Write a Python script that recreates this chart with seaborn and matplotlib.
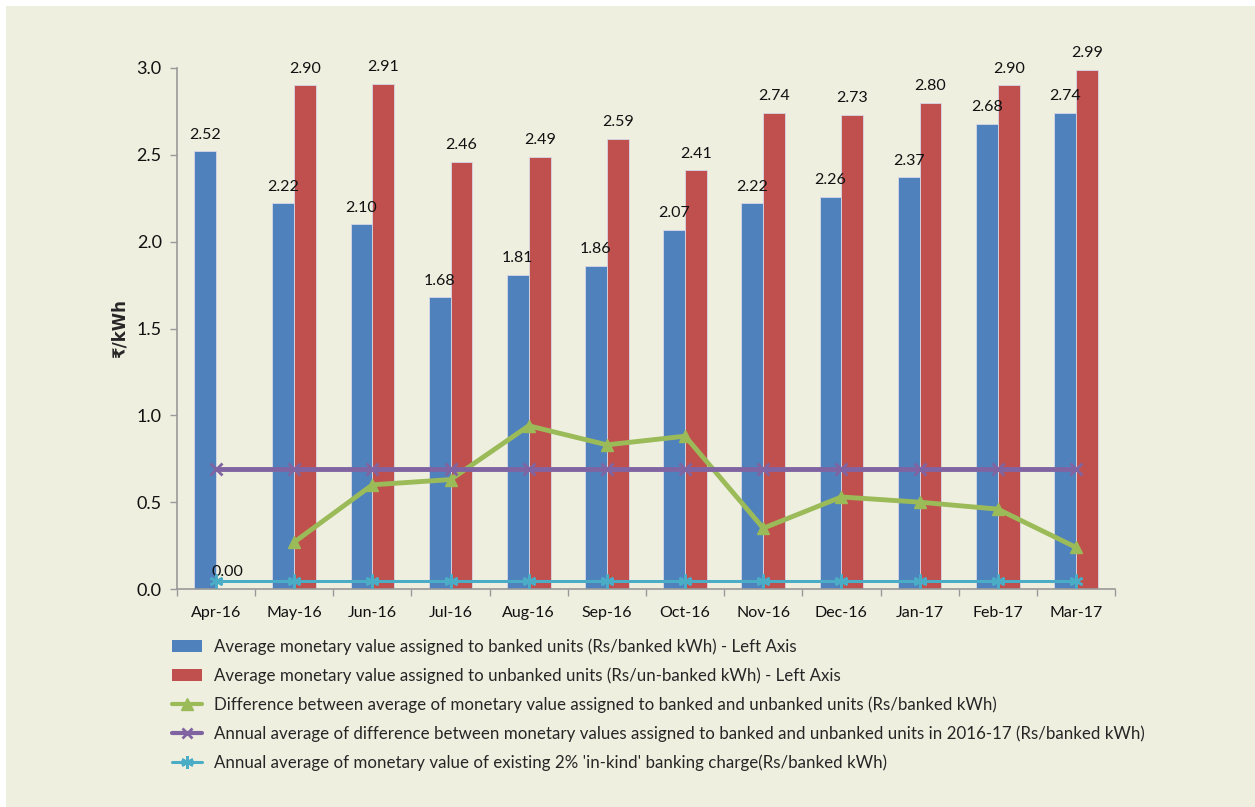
import numpy as np
import pandas as pd
import matplotlib
matplotlib.use("Agg")
import matplotlib.pyplot as plt
from matplotlib.patches import Rectangle
from matplotlib.lines import Line2D
from matplotlib.patches import Patch
import seaborn as sns

# ---- data ----
months = ["Apr-16", "May-16", "Jun-16", "Jul-16", "Aug-16", "Sep-16",
          "Oct-16", "Nov-16", "Dec-16", "Jan-17", "Feb-17", "Mar-17"]
banked = [2.52, 2.22, 2.10, 1.68, 1.81, 1.86, 2.07, 2.22, 2.26, 2.37, 2.68, 2.74]
unbanked = [0.00, 2.90, 2.91, 2.46, 2.49, 2.59, 2.41, 2.74, 2.73, 2.80, 2.90, 2.99]
difference = [np.nan, 0.27, 0.60, 0.63, 0.94, 0.83, 0.88, 0.35, 0.53, 0.50, 0.46, 0.24]
annual_avg_diff = [0.69] * 12
banking_charge = [0.045] * 12

series_names = [
    "Average monetary value assigned to banked units (Rs/banked kWh) - Left Axis",
    "Average monetary value assigned to unbanked units (Rs/un-banked kWh) - Left Axis",
    "Difference between average of monetary value assigned to banked and unbanked units (Rs/banked kWh)",
    "Annual average of difference between monetary values assigned to banked and unbanked units in 2016-17 (Rs/banked kWh)",
    "Annual average of monetary value of existing 2% 'in-kind' banking charge(Rs/banked kWh)",
]

BLUE = "#4F81BD"
RED = "#C0504D"
GREEN = "#9BBB59"
PURPLE = "#8064A2"
CYAN = "#4BACC6"
BG = "#EFEFE0"

sns.set_theme(style="white")
plt.rcParams["font.family"] = ["Lato", "DejaVu Sans"]

fig = plt.figure(figsize=(12.55, 8.07), dpi=100, facecolor="white")
fig.patches.append(Rectangle((6 / 1255, 0), 1 - 6 / 1255, 1 - 6 / 807,
                             transform=fig.transFigure, facecolor=BG,
                             edgecolor="none", zorder=-10))

ax = fig.add_axes([177 / 1255, 1 - 589 / 807, (1115 - 177) / 1255, (589 - 68) / 807])
ax.set_zorder(2)
ax.set_facecolor(BG)

bars_df = pd.DataFrame({
    "month": months * 2,
    "value": banked + unbanked,
    "series": [series_names[0]] * 12 + [series_names[1]] * 12,
})
sns.barplot(data=bars_df, x="month", y="value", hue="series", order=months,
            hue_order=series_names[:2], palette=[BLUE, RED], width=0.56,
            saturation=1, legend=False, ax=ax, edgecolor="#D8D8E8", linewidth=0.6)

for container in ax.containers:
    ax.bar_label(container, fmt="%.2f", padding=7, fontsize=11.5, color="#111111")

x = np.arange(len(months))
ax.plot(x, difference, color=GREEN, lw=3.5, marker="^", ms=9, zorder=5)
ax.plot(x, annual_avg_diff, color=PURPLE, lw=3.5, marker="x", ms=8, mew=2, zorder=5)
ax.plot(x, banking_charge, color=CYAN, lw=2.2, marker=(6, 2, 0), ms=10, mew=1.8, zorder=5)

ax.set_xlim(-0.5, 11.5)
ax.set_ylim(0, 3.0)
ax.set_yticks(np.arange(0, 3.01, 0.5))
ax.set_yticklabels([f"{v:.1f}" for v in np.arange(0, 3.01, 0.5)], fontsize=13)
ax.set_xticks(x)
ax.set_xticklabels(months, fontsize=11.5)
ax.set_xticks(np.arange(-0.5, 12, 1), minor=True)
ax.tick_params(axis="x", which="major", length=0, pad=12, colors="#111111")
ax.tick_params(axis="x", which="minor", length=5, width=1, color="#999999", bottom=True)
ax.tick_params(axis="y", length=5, width=1, color="#999999", left=True, pad=6, colors="#111111")
for s in ["top", "right"]:
    ax.spines[s].set_visible(False)
for s in ["left", "bottom"]:
    ax.spines[s].set_color("#999999")
    ax.spines[s].set_linewidth(1.2)
ax.set_xlabel("")
ax.set_ylabel("₹/kWh", fontsize=12, fontweight="bold", labelpad=6,
              family=["DejaVu Sans"])

handles = [
    Patch(facecolor=BLUE, edgecolor="none"),
    Patch(facecolor=RED, edgecolor="none"),
    Line2D([], [], color=GREEN, lw=3, marker="^", ms=8),
    Line2D([], [], color=PURPLE, lw=3, marker="x", ms=7, mew=2),
    Line2D([], [], color=CYAN, lw=2.2, marker=(6, 2, 0), ms=9, mew=1.8),
]
fig.legend(handles, series_names, loc="upper left",
           bbox_to_anchor=(172 / 1255, 1 - 638 / 807), frameon=False,
           fontsize=12.2, handlelength=1.75, handletextpad=0.7,
           labelspacing=0.74, borderpad=0, borderaxespad=0)

fig.savefig("out.png", dpi=100, facecolor=fig.get_facecolor())
